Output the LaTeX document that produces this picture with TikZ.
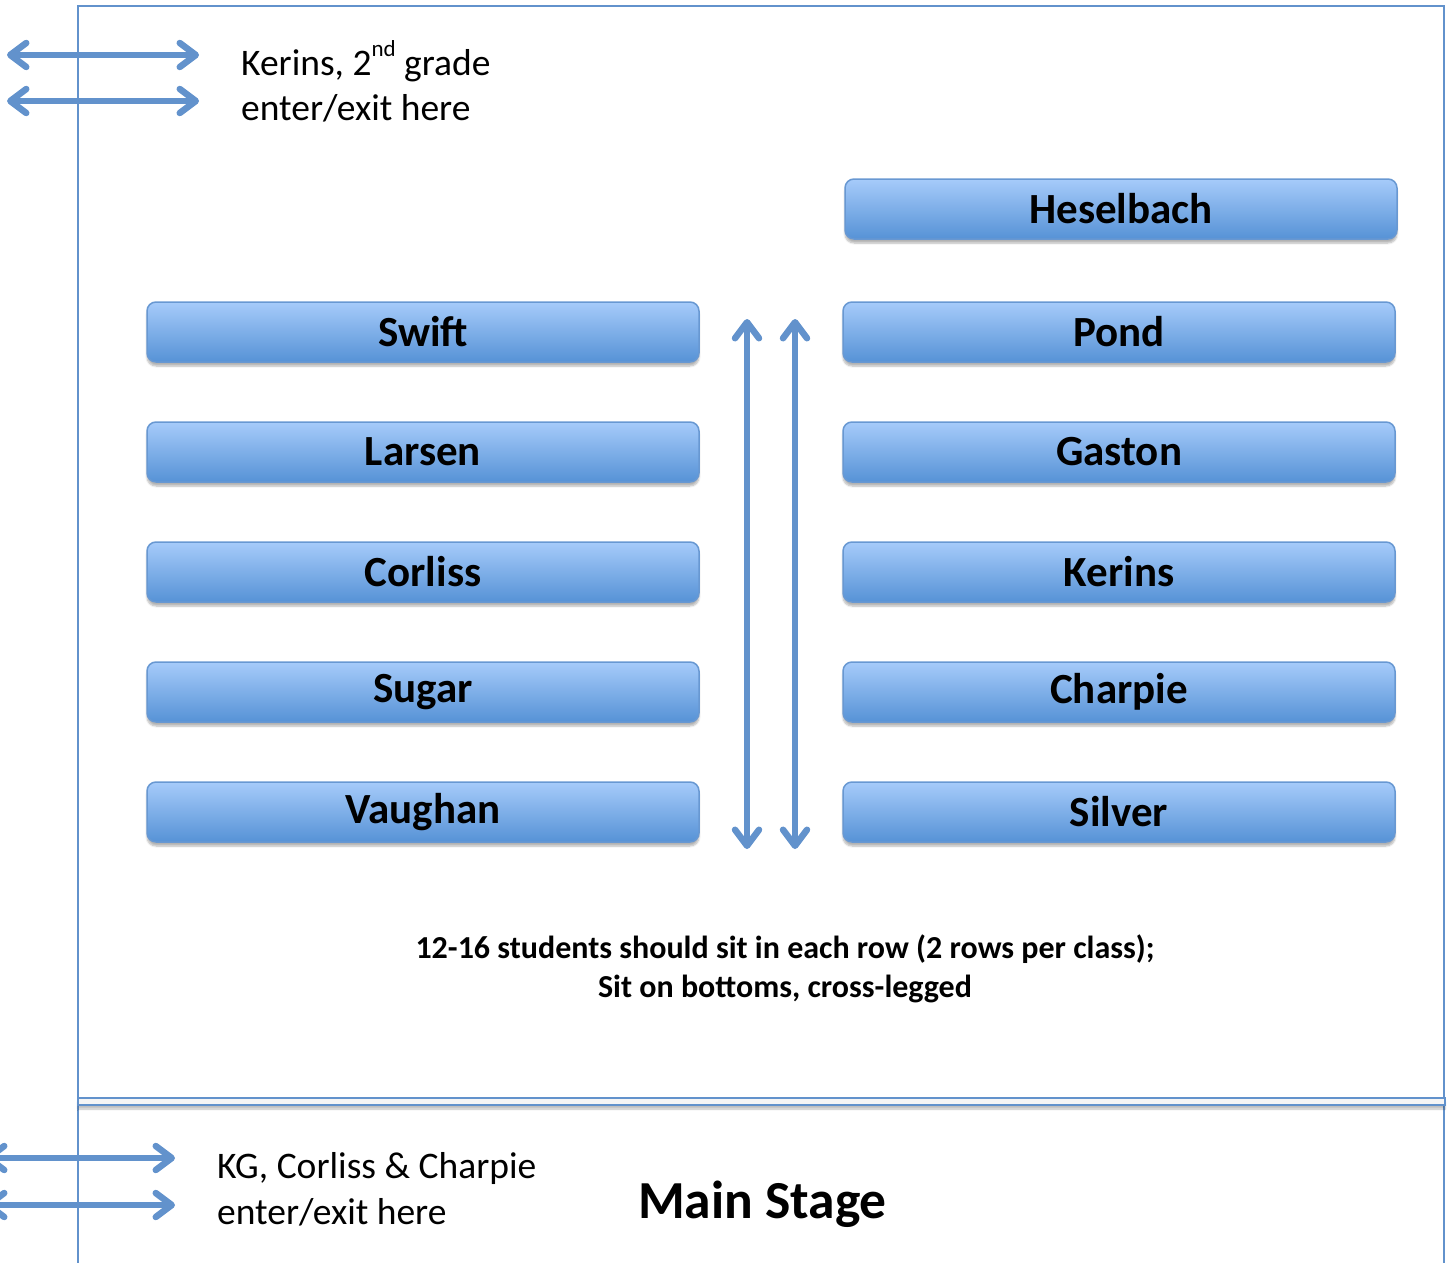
\documentclass[tikz,border=0pt]{standalone}
\usepackage{fontspec}
\setmainfont{Carlito}
\usetikzlibrary{arrows.meta,shadows,shadows.blur}
\definecolor{ln}{RGB}{98,146,204}
\definecolor{btop}{RGB}{166,203,250}
\definecolor{bbot}{RGB}{86,146,214}
\definecolor{bdr}{RGB}{104,152,210}
\tikzset{
  seat/.style={draw=bdr, line width=1.5pt, rounded corners=9pt, top color=btop, bottom color=bbot,
    minimum width=552pt, minimum height=60pt, inner sep=0pt,
    font=\fontsize{43}{43}\selectfont\bfseries,
    blur shadow={shadow blur steps=6, shadow xshift=0pt, shadow yshift=-4pt, shadow opacity=30}},
  barb/.tip={Straight Barb[length=16pt,width=24pt,line width=6.5pt,round]},
  dblarrow/.style={draw=ln, line width=5.5pt, line cap=round, barb-barb},
  lbl/.style={anchor=base west, inner sep=0pt, font=\fontsize{37.5}{44}\selectfont},
  note/.style={anchor=base, inner sep=0pt, font=\fontsize{32}{38}\selectfont\bfseries},
  frame/.style={draw=ln, line width=2pt},
}
\begin{document}
\begin{tikzpicture}[x=1pt,y=-1pt]
\useasboundingbox (0,0) rectangle (1454,1263);
% frame
\coordinate (fbl) at (78,1263);
\coordinate (ftl) at (78,6);
\coordinate (ftr) at (1444,6);
\coordinate (fbr) at (1444,1263);
\draw[frame] (fbl) -- (ftl) -- (ftr) -- (fbr);
% stage edge band
\coordinate (s1) at (78,1098);
\coordinate (s2) at (1445,1105);
\draw[draw=ln, line width=1.5pt, fill=gray!8, blur shadow={shadow blur steps=6, shadow xshift=0pt, shadow yshift=-4pt, shadow opacity=25}] (s1) rectangle (s2);
% entrance arrows top
\coordinate (a1l) at (7,55);  \coordinate (a1r) at (199,55);
\coordinate (a2l) at (7,101); \coordinate (a2r) at (199,101);
\draw[dblarrow] (a1l) -- (a1r);
\draw[dblarrow] (a2l) -- (a2r);
\node[lbl] (ktxt1) at (241,75) {Kerins, 2\raisebox{19pt}{\fontsize{23}{23}\selectfont nd} grade};
\node[lbl] (ktxt2) at (241,120) {enter/exit here};
% entrance arrows bottom
\coordinate (b1l) at (-15,1158); \coordinate (b1r) at (175,1158);
\coordinate (b2l) at (-15,1205); \coordinate (b2r) at (175,1205);
\draw[dblarrow] (b1l) -- (b1r);
\draw[dblarrow] (b2l) -- (b2r);
\node[lbl] (gtxt1) at (217,1178) {KG, Corliss \& Charpie};
\node[lbl] (gtxt2) at (217,1224) {enter/exit here};
% rows
\node[seat] (hes) at (1121,209) {Heselbach};
\node[seat] (swift) at (423,332) {Swift};
\node[seat] (larsen) at (423,452) {Larsen};
\node[seat] (corliss) at (423,572) {Corliss};
\node[seat] (sugar) at (423,692) {Sugar};
\node[seat] (vaughan) at (423,812) {Vaughan};
\node[seat] (pond) at (1119,332) {Pond};
\node[seat] (gaston) at (1119,452) {Gaston};
\node[seat] (kerins) at (1119,572) {Kerins};
\node[seat] (charpie) at (1119,692) {Charpie};
\node[seat] (silver) at (1119,812) {Silver};
% aisle arrows
\coordinate (v1t) at (747,319); \coordinate (v1b) at (747,849);
\coordinate (v2t) at (795,319); \coordinate (v2b) at (795,849);
\draw[dblarrow] (v1t) -- (v1b);
\draw[dblarrow] (v2t) -- (v2b);
% notes
\node[note] (n1) at (785,958) {12-16 students should sit in each row (2 rows per class);};
\node[note] (n2) at (785,997) {Sit on bottoms, cross-legged};
\node[anchor=base west, inner sep=0pt, font=\fontsize{53.5}{53.5}\selectfont\bfseries] (stage) at (638,1218) {Main Stage};
\end{tikzpicture}
\end{document}
